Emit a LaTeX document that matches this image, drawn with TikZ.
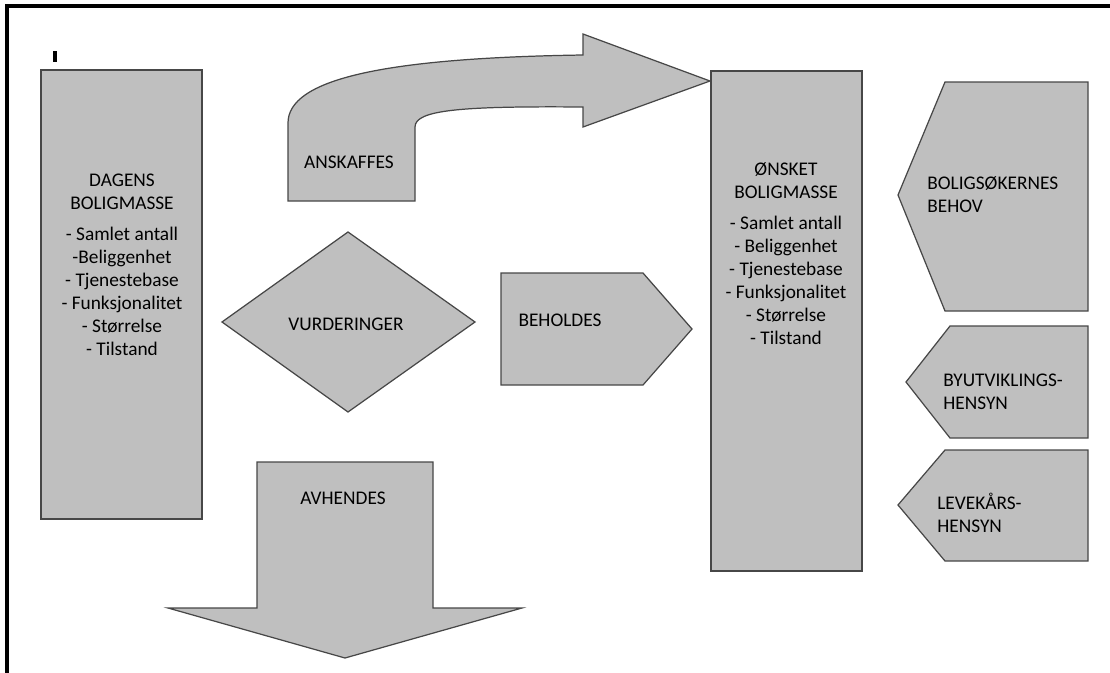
\documentclass[tikz,border=0pt]{standalone}
\usepackage{fontspec}
\setmainfont{Carlito}
\begin{document}
\begin{tikzpicture}[x=0.02cm,y=-0.02cm,
  shp/.style={draw=black!72, fill=black!25, line width=0.7pt, line join=miter},
  lbl/.style={font=\fontsize{11}{13.1}\selectfont, text=black, inner sep=0pt},
]
\useasboundingbox (0,0) rectangle (1110,673);
% frame
\draw[line width=2.2pt] (7,673) -- (7,6) -- (1110,6);
\draw[line width=2pt] (55,51) -- (55,62);
% shapes
\draw[shp] (41,70) rectangle (202,519);
\draw[shp] (711,71) rectangle (862,571);
\draw[shp] (288,201) -- (288,123) .. controls (288,80) and (380,58) .. (583,55)
  -- (583,34) -- (710,81) -- (583,127) -- (583,107)
  .. controls (460,106) and (415,110) .. (415,127) -- (415,201) -- cycle;
\draw[shp] (348,232) -- (475,322) -- (348,412) -- (222,322) -- cycle;
\draw[shp] (501,273) -- (643,273) -- (692,329) -- (643,385) -- (501,385) -- cycle;
\draw[shp] (945,82) -- (1088,82) -- (1088,311) -- (945,311) -- (898,195) -- cycle;
\draw[shp] (950,326) -- (1088,326) -- (1088,438) -- (950,438) -- (906,382) -- cycle;
\draw[shp] (945,450) -- (1088,450) -- (1088,561) -- (945,561) -- (898,505) -- cycle;
\draw[shp] (257,462) -- (433,462) -- (433,608) -- (522,608) -- (345,658) -- (168,608) -- (257,608) -- cycle;
% texts
\node[lbl, align=center] (dagens) at (122,265) {DAGENS\\BOLIGMASSE\\[4.5pt]- Samlet antall\\-Beliggenhet\\- Tjenestebase\\- Funksjonalitet\\- Størrelse\\- Tilstand};
\node[lbl, align=center] (onsket) at (786,254) {ØNSKET\\BOLIGMASSE\\[4.5pt]- Samlet antall\\- Beliggenhet\\- Tjenestebase\\- Funksjonalitet\\- Størrelse\\- Tilstand};
\node[lbl] (anskaffes) at (349,162) {ANSKAFFES};
\node[lbl] (vurd) at (346,324) {VURDERINGER};
\node[lbl] (behold) at (560,320) {BEHOLDES};
\node[lbl] (avh) at (343,498) {AVHENDES};
\node[lbl, align=left, anchor=west] (bolig) at (927,195) {BOLIGSØKERNES\\BEHOV};
\node[lbl, align=left, anchor=west] (byut) at (943,392) {BYUTVIKLINGS-\\HENSYN};
\node[lbl, align=left, anchor=west] (leve) at (937,513) {LEVEKÅRS-\\HENSYN};
\end{tikzpicture}
\end{document}
